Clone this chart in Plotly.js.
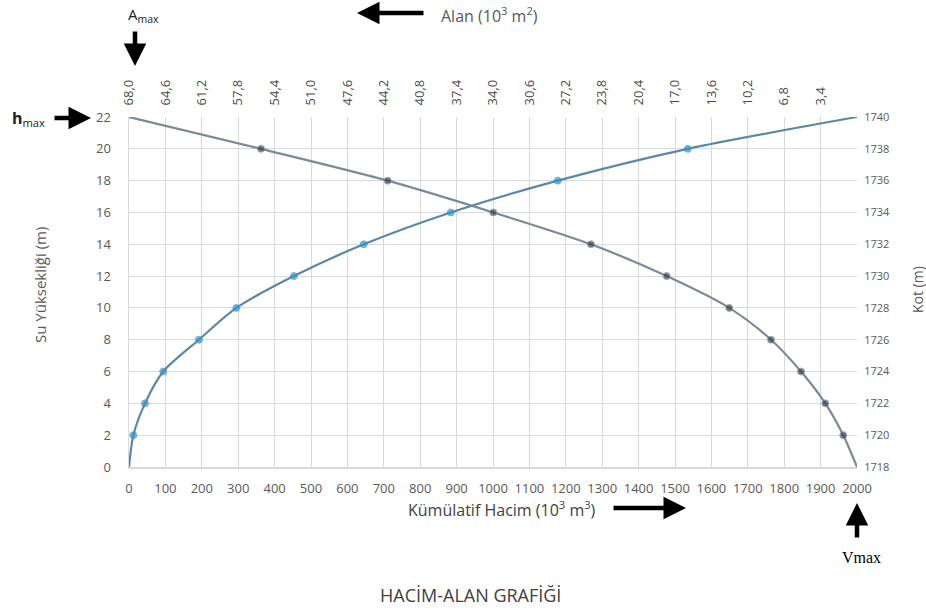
<!DOCTYPE html>
<html>
<head>
<meta charset="utf-8">
<script src="https://cdn.plot.ly/plotly-3.0.1.min.js"></script>
<style>html,body{margin:0;padding:0;background:#fff;}#chart{width:926px;height:610px;}</style>
</head>
<body>
<div id="chart"></div>
<script>
// Water height (m)
const heights = [0, 2, 4, 6, 8, 10, 12, 14, 16, 18, 20, 22];
// Cumulative volume (10^3 m^3)
const volumes = [0, 12, 44, 94, 192, 295, 453, 645, 884, 1178, 1535, 2000];
// Surface area (10^3 m^2)
const areas = [0, 1.28, 2.96, 5.23, 8.03, 11.93, 17.78, 24.85, 33.97, 43.84, 55.67, 68.0];
// Elevation (m) matching the heights
const kots = [1718, 1720, 1722, 1724, 1726, 1728, 1730, 1732, 1734, 1736, 1738, 1740];
// Top axis tick values (area)
const areaTicks = [68.0, 64.6, 61.2, 57.8, 54.4, 51.0, 47.6, 44.2, 40.8, 37.4, 34.0, 30.6, 27.2, 23.8, 20.4, 17.0, 13.6, 10.2, 6.8, 3.4];

const n = heights.length;
const markerSizes = heights.map((h, i) => (i === 0 || i === n - 1) ? 0 : 7);

const tickFont = {family: 'Open Sans, Noto Sans, sans-serif', size: 13, color: '#595959'};
const gridColor = '#d9d9d9';

const traces = [
  {
    x: volumes, y: heights, xaxis: 'x', yaxis: 'y',
    mode: 'lines+markers', type: 'scatter',
    line: {color: '#5b88a8', width: 2.2, shape: 'spline', smoothing: 0.8},
    marker: {color: '#1b9bd7', size: markerSizes},
    hoverinfo: 'x+y', showlegend: false
  },
  {
    x: areas, y: heights, xaxis: 'x2', yaxis: 'y',
    mode: 'lines+markers', type: 'scatter',
    line: {color: '#7d8a95', width: 2.2, shape: 'spline', smoothing: 0.8},
    marker: {color: '#34414d', size: markerSizes},
    hoverinfo: 'x+y', showlegend: false
  },
  {
    x: volumes, y: kots, xaxis: 'x', yaxis: 'y2',
    mode: 'lines', type: 'scatter', opacity: 0,
    hoverinfo: 'skip', showlegend: false
  }
];

const L = 129, R = 857, T = 117, B = 467;
const px = v => (v - L) / (R - L);
const py = v => (B - v) / (B - T);

const arrowBase = {text: '', showarrow: true, arrowhead: 2, arrowsize: 1, arrowwidth: 4.5, arrowcolor: '#000', xref: 'paper', yref: 'paper'};
const txt = (x, y, text, extra) => Object.assign({xref: 'paper', yref: 'paper', x: px(x), y: py(y), text: text, showarrow: false,
  xanchor: 'center', yanchor: 'middle',
  font: {family: 'Open Sans, Noto Sans, sans-serif', size: 13, color: '#595959'}}, extra || {});

const annotations = [
  // Amax
  txt(143, 15, 'A<sub>max</sub>', {font: {family: 'Open Sans, sans-serif', size: 15, color: '#222'}}),
  Object.assign({}, arrowBase, {x: px(135), y: py(66), ax: 0, ay: -36}),
  // Alan arrow + text
  Object.assign({}, arrowBase, {x: px(357), y: py(13), ax: 68, ay: 0}),
  txt(489, 15, 'Alan (10<sup>3</sup> m<sup>2</sup>)', {font: {family: 'Open Sans, sans-serif', size: 16, color: '#595959'}}),
  // hmax
  txt(29, 118, '<b>h</b><sub>max</sub>', {font: {family: 'Open Sans, sans-serif', size: 16, color: '#222'}}),
  Object.assign({}, arrowBase, {x: px(91), y: py(118), ax: -38, ay: 0}),
  // Kümülatif Hacim
  txt(502, 509, 'Kümülatif Hacim (10<sup>3</sup> m<sup>3</sup>)', {font: {family: 'Open Sans, sans-serif', size: 16, color: '#404040'}}),
  Object.assign({}, arrowBase, {x: px(686), y: py(508), ax: -74, ay: 0}),
  // Vmax
  Object.assign({}, arrowBase, {x: px(857), y: py(503), ax: 0, ay: 36}),
  txt(861, 557, 'Vmax', {font: {family: 'Liberation Serif, DejaVu Serif, serif', size: 16, color: '#000'}}),
  // Axis titles
  txt(40, 285, 'Su Yüksekliği (m)', {textangle: -90, font: {family: 'Open Sans, sans-serif', size: 15, color: '#595959'}}),
  txt(917, 290, 'Kot (m)', {textangle: -90, font: {family: 'Open Sans, sans-serif', size: 14, color: '#595959'}}),
  // Chart title
  txt(470, 595, 'HACİM-ALAN GRAFİĞİ', {font: {family: 'Open Sans, sans-serif', size: 18, color: '#404040'}})
];

const layout = {
  width: 926, height: 610,
  margin: {l: L, r: 926 - R, t: T, b: 610 - B, pad: 0},
  paper_bgcolor: '#fff', plot_bgcolor: '#fff',
  showlegend: false,
  xaxis: {
    range: [0, 2000], dtick: 100, tick0: 0,
    showgrid: true, gridcolor: gridColor, gridwidth: 1,
    showline: true, linecolor: gridColor, linewidth: 1.5,
    zeroline: false, ticks: 'outside', ticklen: 9, tickcolor: 'rgba(0,0,0,0)',
    tickfont: tickFont, fixedrange: true
  },
  xaxis2: {
    overlaying: 'x', side: 'top', anchor: 'y',
    range: [68, 0], tickmode: 'array',
    tickvals: areaTicks,
    ticktext: areaTicks.map(v => v.toFixed(1).replace('.', ',')),
    tickangle: -90, showgrid: false, zeroline: false, showline: false,
    ticks: 'outside', ticklen: 8, tickcolor: 'rgba(0,0,0,0)',
    tickfont: {family: 'Open Sans, Noto Sans, sans-serif', size: 13, color: '#4a4a4a'}, fixedrange: true
  },
  yaxis: {
    range: [0, 22], dtick: 2, tick0: 0,
    showgrid: true, gridcolor: gridColor, gridwidth: 1,
    showline: true, linecolor: gridColor, linewidth: 1.5,
    zeroline: false, ticks: 'outside', ticklen: 14, tickcolor: 'rgba(0,0,0,0)',
    tickfont: tickFont, fixedrange: true
  },
  yaxis2: {
    overlaying: 'y', side: 'right', anchor: 'x',
    range: [1718, 1740], dtick: 2, tick0: 1718,
    showgrid: false, zeroline: false, showline: false,
    ticks: 'outside', ticklen: 4, tickcolor: 'rgba(0,0,0,0)',
    tickfont: {family: 'Open Sans, Noto Sans, sans-serif', size: 11, color: '#595959'}, fixedrange: true
  },
  annotations: annotations
};

Plotly.newPlot('chart', traces, layout, {displayModeBar: false, staticPlot: true});
</script>
</body>
</html>
